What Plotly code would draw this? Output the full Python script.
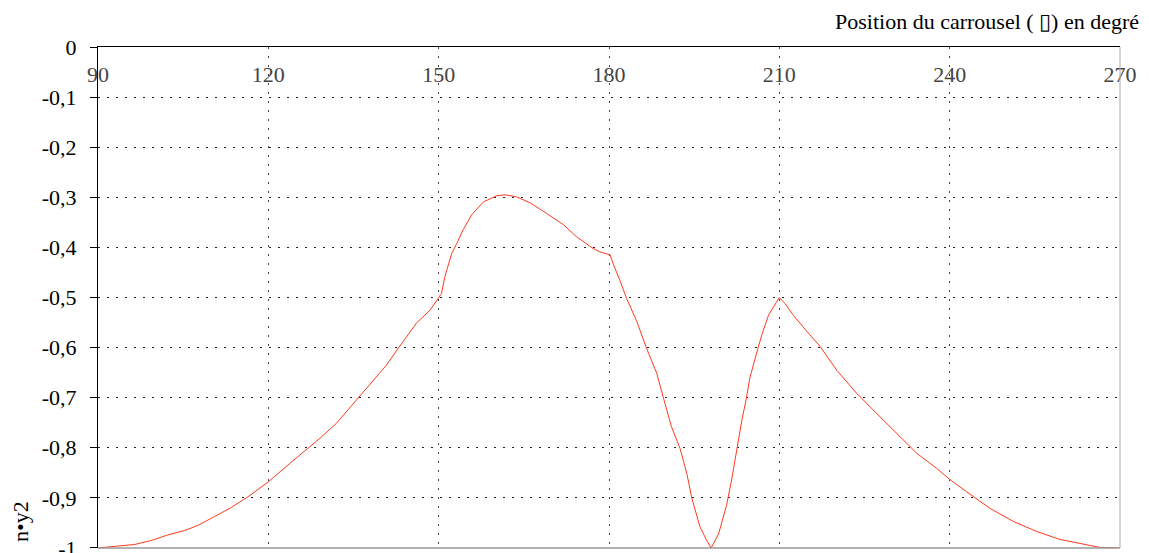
import plotly.graph_objects as go

# Position du carrousel (degrés)
positions = [90, 93.5, 96.5, 99.4, 102.3, 105.3, 107.6, 110.5, 113.5, 116.4,
             120, 123.8, 127, 129.1, 132, 135.8, 139.1, 140.8, 142.9, 146.1,
             148.5, 149.9, 150.5, 151.1, 152.3, 153.2, 154.3, 155.8, 157.9, 160.2,
             161.7, 163.7, 166.1, 169, 172, 174.3, 177.2, 178.4, 179.6, 180.2,
             180.8, 181.9, 183.1, 184.9, 186.6, 188.4, 189.6, 191, 192.5, 193.7,
             194.6, 196, 197.2, 198, 199.3, 200.7, 201.6, 202.5, 203.4, 204.2,
             204.8, 206, 206.9, 208.1, 209.2, 210, 211, 212.5, 214.5, 217.2,
             220.1, 223.6, 227.1, 230.7, 234.2, 237.7, 240.1, 243, 247.1, 251.2,
             255.3, 259.4, 263.5, 266.5, 270]
# n•y2
values = [-1.0, -0.997, -0.993, -0.985, -0.974, -0.965, -0.955, -0.9375, -0.919, -0.898,
          -0.868, -0.831, -0.801, -0.781, -0.751, -0.701, -0.658, -0.635, -0.601, -0.551,
          -0.525, -0.502, -0.492, -0.458, -0.412, -0.392, -0.365, -0.335, -0.309, -0.297,
          -0.295, -0.299, -0.311, -0.332, -0.355, -0.379, -0.402, -0.409, -0.413, -0.415,
          -0.435, -0.465, -0.502, -0.548, -0.601, -0.651, -0.701, -0.758, -0.801, -0.851,
          -0.901, -0.957, -0.985, -1.0, -0.972, -0.915, -0.864, -0.801, -0.745, -0.701,
          -0.661, -0.611, -0.575, -0.535, -0.513, -0.5, -0.512, -0.536, -0.563, -0.598,
          -0.645, -0.691, -0.731, -0.771, -0.811, -0.841, -0.864, -0.888, -0.921, -0.947,
          -0.967, -0.983, -0.993, -0.999, -1.0]

x_ticks = [90, 120, 150, 180, 210, 240, 270]
x_tick_labels = ["90", "120", "150", "180", "210", "240", "270"]
y_ticks = [0, -0.1, -0.2, -0.3, -0.4, -0.5, -0.6, -0.7, -0.8, -0.9, -1]
y_tick_labels = ["0", "-0,1", "-0,2", "-0,3", "-0,4", "-0,5", "-0,6", "-0,7", "-0,8", "-0,9", "-1"]

x_title = "Position du carrousel ( \u25AF) en degré"
y_title = "n•y2"

FONT = "Liberation Serif, Times New Roman, Times, serif"

fig = go.Figure()
fig.add_trace(go.Scatter(x=positions, y=values, mode="lines",
                         line=dict(color="#ff3a1e", width=1), showlegend=False))

fig.update_layout(
    width=1149, height=553,
    margin=dict(l=90, r=37, t=39, b=13),
    paper_bgcolor="white", plot_bgcolor="white",
    font=dict(family=FONT, size=22, color="black"),
    xaxis=dict(range=[90, 270], side="top", tickvals=x_ticks, ticktext=x_tick_labels,
               ticklabelposition="inside", ticklabeloverflow="allow", ticks="",
               ticklabelstandoff=21,
               showline=True, linecolor="black",
               linewidth=1, showgrid=True, gridcolor="#444", griddash="2px,7px",
               gridwidth=1, zeroline=False, automargin=False,
               tickfont=dict(family=FONT, size=22)),
    yaxis=dict(range=[-1.0001, 0.0001], tickvals=y_ticks, ticktext=y_tick_labels,
               ticks="outside", ticklen=7, tickcolor="black", showline=True,
               ticklabelstandoff=9,
               linecolor="black", linewidth=1, showgrid=True, gridcolor="#222",
               griddash="2px,7px", gridwidth=1, zeroline=False, automargin=False,
               tickfont=dict(family=FONT, size=22)),
    annotations=[
        dict(text=x_title, xref="paper", yref="paper", x=1.021, y=1.05,
             xanchor="right", yanchor="middle", showarrow=False,
             font=dict(family=FONT, size=22)),
        dict(text=y_title, xref="paper", yref="paper", x=-0.0753, y=0.052,
             xanchor="center", yanchor="middle", textangle=-90, showarrow=False,
             font=dict(family=FONT, size=22)),
    ],
    shapes=[
        dict(type="line", xref="paper", yref="paper", x0=0, x1=1, y0=0, y1=0,
             line=dict(color="#999", width=1.5)),
        dict(type="line", xref="paper", yref="paper", x0=1, x1=1, y0=0, y1=1,
             line=dict(color="#aaa", width=1)),
    ],
)

fig.write_html("out.html")
